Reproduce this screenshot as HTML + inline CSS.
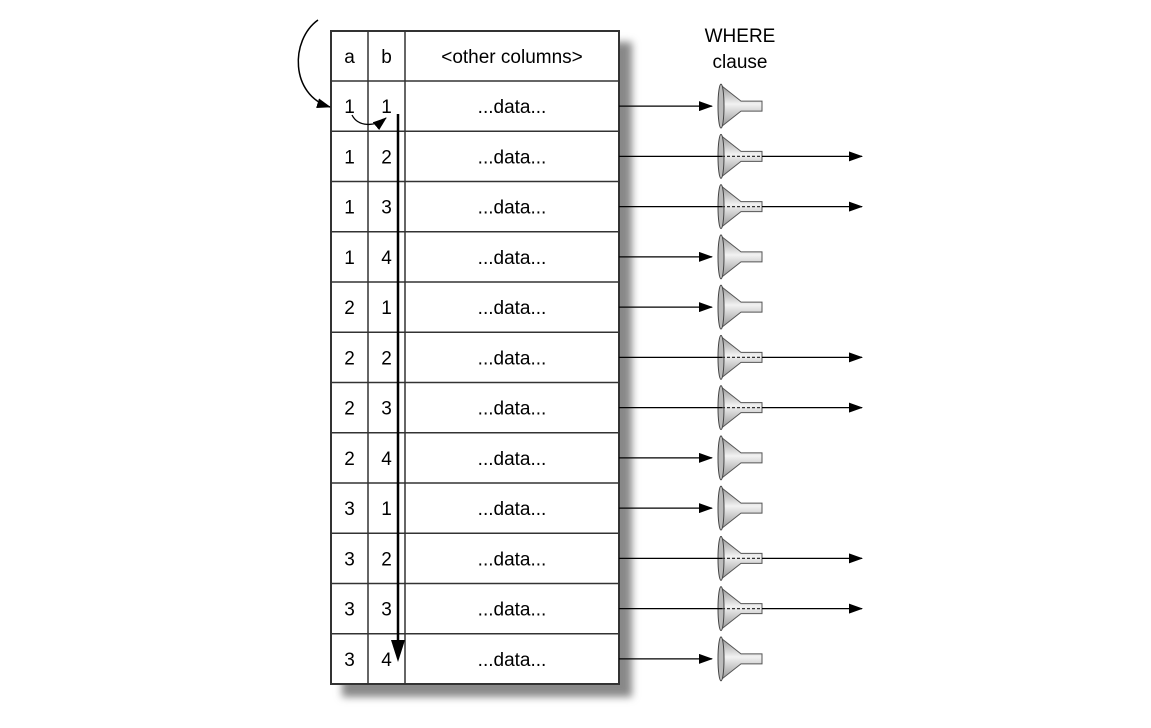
<!DOCTYPE html>
<html><head><meta charset="utf-8">
<style>
html,body{margin:0;padding:0;background:#fff;}
svg{display:block;font-family:"Liberation Sans",sans-serif;}
</style></head>
<body>
<svg id="chart" width="1151" height="728" viewBox="0 0 1151 728">
<defs>
<filter id="blur" x="-10%" y="-10%" width="120%" height="120%"><feGaussianBlur stdDeviation="4"/></filter>
<marker id="ah" markerWidth="14" markerHeight="10" refX="13" refY="5" orient="auto" markerUnits="userSpaceOnUse"><path d="M0,0 L14,5 L0,10 Z" fill="#000"/></marker>
<linearGradient id="fg" x1="0" y1="0" x2="0" y2="1"><stop offset="0" stop-color="#999"/><stop offset="0.45" stop-color="#f2f2f2"/><stop offset="1" stop-color="#999"/></linearGradient>
</defs>
<rect x="342" y="42" width="290" height="655" fill="#888" filter="url(#blur)"/>
<g id="tbl"></g>
<g id="flow"></g>
<text x="740" y="42" text-anchor="middle" font-size="19">WHERE</text>
<text x="740" y="68" text-anchor="middle" font-size="19">clause</text>
<path d="M318,20 C290,40 290,95 330,107" fill="none" stroke="#000" stroke-width="1.5" marker-end="url(#ah)"/>
<path d="M352,115 C358,127 375,127 386,118" fill="none" stroke="#000" stroke-width="1.3" marker-end="url(#ah)"/>
<line x1="398" y1="114" x2="398" y2="645" stroke="#000" stroke-width="2.5"/>
<path d="M391,640 L405,640 L398,662 Z" fill="#000"/>
</svg>
<script>
const colA = [1,1,1,1,2,2,2,2,3,3,3,3];
const colB = [1,2,3,4,1,2,3,4,1,2,3,4];
const passes = [0,1,1,0,0,1,1,0,0,1,1,0];
const NS="http://www.w3.org/2000/svg";
const X0=331,X1=368,X2=405,X3=619,Y0=31,HH=50,RH=50.25;
const tbl=document.getElementById('tbl'), flow=document.getElementById('flow');
function mk(tag,attrs,parent){const e=document.createElementNS(NS,tag);for(const k in attrs)e.setAttribute(k,attrs[k]);parent.appendChild(e);return e;}
const n=colA.length;
const bottom=Y0+HH+RH*n;
let bg=mk('rect',{x:X0,y:Y0,width:X3-X0,height:bottom-Y0,fill:'#fff',stroke:'#333','stroke-width':2},tbl);


[X1,X2].forEach(x=>{const l=mk('line',{x1:x,y1:Y0,x2:x,y2:bottom,stroke:'#333','stroke-width':1.5},tbl);

});
const hdr=[['a',(X0+X1)/2],['b',(X1+X2)/2],['<other columns>',(X2+X3)/2]];
hdr.forEach(h=>{const t=mk('text',{x:h[1],y:Y0+32,'text-anchor':'middle','font-size':19},tbl);t.textContent=h[0];

});
for(let i=0;i<n;i++){
 const top=Y0+HH+RH*i, cy=top+RH/2;
 const l=mk('line',{x1:X0,y1:top,x2:X3,y2:top,stroke:'#333','stroke-width':1.5},tbl);
 
 
 [[colA[i],(X0+X1)/2],[colB[i],(X1+X2)/2],['...data...',(X2+X3)/2]].forEach(c=>{
  const t=mk('text',{x:c[1],y:cy+7,'text-anchor':'middle','font-size':19},tbl);t.textContent=c[0];
  
  });
 const g=mk('g',{},flow);
 
 
 mk('path',{d:`M722,${cy-20} L741,${cy-5} L762,${cy-5} L762,${cy+5} L741,${cy+5} L722,${cy+20} Z`,fill:'url(#fg)',stroke:'#555','stroke-width':1},g);
 mk('ellipse',{cx:721,cy:cy,rx:3,ry:22,fill:'#bbb',stroke:'#444','stroke-width':1},g);
 if(passes[i]){
  mk('line',{x1:X3,y1:cy,x2:722,y2:cy,stroke:'#000','stroke-width':1.3},g);
  mk('line',{x1:722,y1:cy,x2:762,y2:cy,stroke:'#333','stroke-width':1.2,'stroke-dasharray':'3,2'},g);
  mk('line',{x1:762,y1:cy,x2:862,y2:cy,stroke:'#000','stroke-width':1.3,'marker-end':'url(#ah)'},g);
 } else {
  mk('line',{x1:X3,y1:cy,x2:712,y2:cy,stroke:'#000','stroke-width':1.3,'marker-end':'url(#ah)'},g);
 }
}
</script>
</body></html>
